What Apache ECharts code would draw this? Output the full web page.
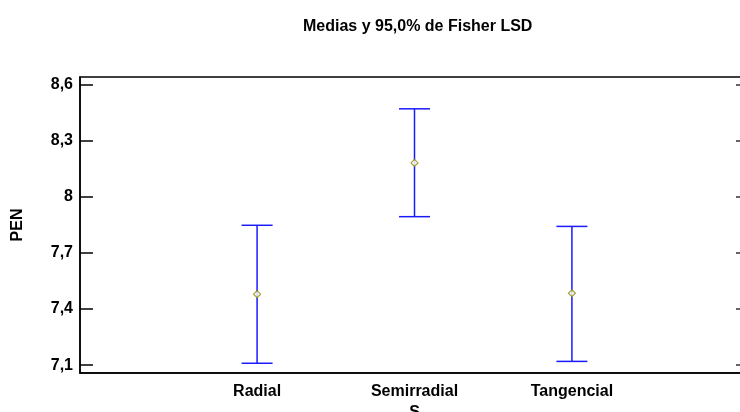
<!DOCTYPE html>
<html>
<head>
<meta charset="utf-8">
<script src="https://cdn.jsdelivr.net/npm/echarts@6/dist/echarts.min.js"></script>
<style>html,body{margin:0;padding:0;background:#fff}#c{width:740px;height:412px}</style>
</head>
<body>
<div id="c"></div>
<script>
const categories = ['Radial', 'Semirradial', 'Tangencial'];
const xPositions = [1, 2, 3];
const means = [7.479, 8.180, 7.484];
const lower = [7.110, 7.893, 7.120];
const upper = [7.847, 8.469, 7.841];
const yTickValues = [7.1, 7.4, 7.7, 8, 8.3, 8.6];
const yTickLabels = ['7,1', '7,4', '7,7', '8', '8,3', '8,6'];

const FONT = "'Liberation Sans', Arial, sans-serif";
const FS = 16;
const chart = echarts.init(document.getElementById('c'), null, {renderer: 'canvas'});

const barData = xPositions.map((x, i) => [x, lower[i], upper[i]]);
const meanData = xPositions.map((x, i) => [x, means[i]]);

chart.setOption({
  animation: false,
  title: {
    text: 'Medias y 95,0% de Fisher LSD',
    left: 298, top: 14,
    textStyle: {fontFamily: FONT, fontWeight: 'bold', fontSize: FS, color: '#000'}
  },
  grid: {left: 80, top: 77, right: -9, bottom: 39, outerBoundsMode: 'none', containLabel: false,
         show: true, borderColor: '#000', borderWidth: 1.5, backgroundColor: 'transparent'},
  xAxis: {
    type: 'value', min: -0.125, max: 4.125,
    name: 'S', nameLocation: 'middle', nameGap: 30,
    nameTextStyle: {fontFamily: FONT, fontWeight: 'bold', fontSize: FS, color: '#000'},
    axisLine: {show: true, onZero: false, lineStyle: {color: '#000', width: 1.5}},
    axisTick: {show: false},
    splitLine: {show: false},
    axisLabel: {
      customValues: xPositions,
      formatter: v => categories[xPositions.indexOf(v)] || '',
      fontFamily: FONT, fontWeight: 'bold', fontSize: FS, color: '#000', margin: 11
    }
  },
  yAxis: [{
    type: 'value', min: 7.058, max: 8.639, position: 'left',
    name: 'PEN', nameLocation: 'middle', nameGap: 54,
    nameTextStyle: {fontFamily: FONT, fontWeight: 'bold', fontSize: FS, color: '#000'},
    axisLine: {show: true, onZero: false, lineStyle: {color: '#000', width: 1.5}},
    axisTick: {show: true, inside: true, length: 13, customValues: yTickValues, lineStyle: {color: '#000', width: 1.5}},
    axisLabel: {
      customValues: yTickValues,
      formatter: v => yTickLabels[yTickValues.findIndex(t => Math.abs(t - v) < 1e-9)],
      fontFamily: FONT, fontWeight: 'bold', fontSize: FS, color: '#000', margin: 7
    },
    splitLine: {show: false}
  }, {
    type: 'value', min: 7.058, max: 8.639, position: 'right',
    axisLine: {show: true, onZero: false, lineStyle: {color: '#000', width: 1.5}},
    axisTick: {show: true, inside: true, length: 13, customValues: yTickValues, lineStyle: {color: '#333', width: 1.5}},
    axisLabel: {show: false},
    splitLine: {show: false}
  }],
  series: [{
    type: 'custom',
    data: barData,
    renderItem: function (params, api) {
      const x = api.value(0);
      const lo = api.coord([x, api.value(1)]);
      const hi = api.coord([x, api.value(2)]);
      const hw = 15.5;
      const style = {stroke: '#1a1aff', lineWidth: 1.5, fill: null};
      return {
        type: 'group',
        children: [
          {type: 'line', shape: {x1: lo[0], y1: lo[1], x2: hi[0], y2: hi[1]}, style},
          {type: 'line', shape: {x1: hi[0] - hw, y1: hi[1], x2: hi[0] + hw, y2: hi[1]}, style},
          {type: 'line', shape: {x1: lo[0] - hw, y1: lo[1], x2: lo[0] + hw, y2: lo[1]}, style}
        ]
      };
    },
    z: 2
  }, {
    type: 'scatter',
    data: meanData,
    symbol: 'diamond',
    symbolSize: [7, 7],
    itemStyle: {color: '#ffffff', borderColor: '#8c8c00', borderWidth: 1.2},
    z: 3
  }]
});
</script>
</body>
</html>
